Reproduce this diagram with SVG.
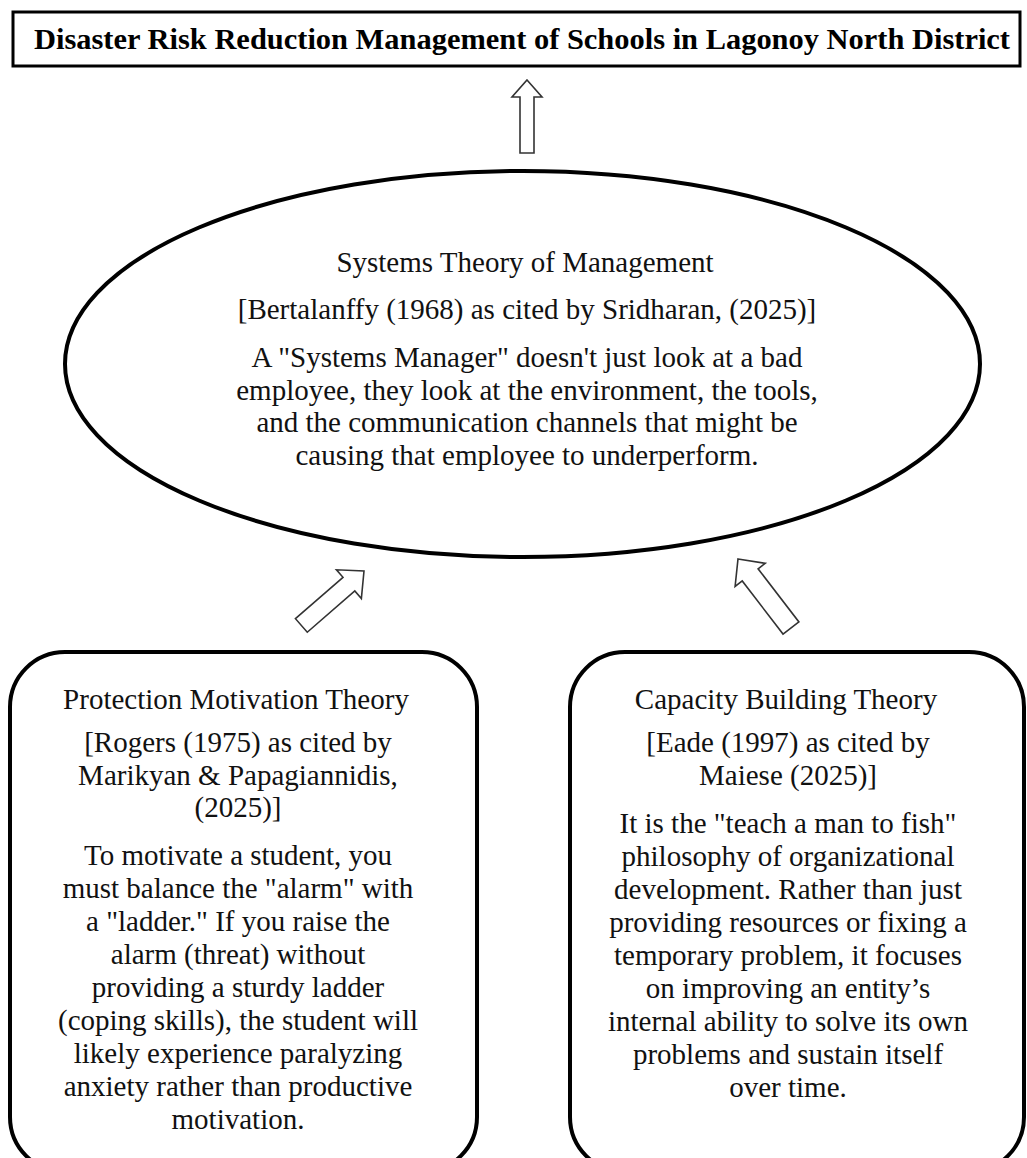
<svg xmlns="http://www.w3.org/2000/svg" width="1027" height="1158" viewBox="0 0 1027 1158">
<style>
.t{font-family:"Liberation Serif","Times New Roman",serif;font-size:29px;fill:#111;text-anchor:middle}
.title{font-family:"Liberation Serif","Times New Roman",serif;font-size:30px;font-weight:bold;fill:#000;text-anchor:middle}
.node{fill:#fff;stroke:#000;stroke-width:4}
.arr{fill:#fff;stroke:#333;stroke-width:1.6;stroke-linejoin:miter}
</style>
<rect width="1027" height="1158" fill="#fff"/>
<g id="connectors">
<path class="arr" transform="translate(527,80)" d="M0,0 L15,17 L7,17 L7,73 L-7,73 L-7,17 L-15,17 Z"/>
<path class="arr" transform="translate(364,571) rotate(49)" d="M0,0 L19,20 L9,20 L9,83 L-9,83 L-9,20 L-19,20 Z"/>
<path class="arr" transform="translate(738,559) rotate(-37.5)" d="M0,0 L19,20 L10,20 L10,87 L-10,87 L-10,20 L-19,20 Z"/>
</g>
<g id="title-node">
<rect x="13" y="12" width="1007" height="54" fill="#fff" stroke="#000" stroke-width="3"/>
<text class="title" x="522" y="49" textLength="976" lengthAdjust="spacingAndGlyphs">Disaster Risk Reduction Management of Schools in Lagonoy North District</text>
</g>
<g id="systems-theory">
<ellipse class="node" cx="522.5" cy="364" rx="457.5" ry="193"/>
<text class="t" x="525" y="272">Systems Theory of Management</text>
<text class="t" x="527" y="319">[Bertalanffy (1968) as cited by Sridharan, (2025)]</text>
<text class="t" x="527" y="367">A "Systems Manager" doesn't just look at a bad</text>
<text class="t" x="527" y="400">employee, they look at the environment, the tools,</text>
<text class="t" x="527" y="432">and the communication channels that might be</text>
<text class="t" x="527" y="465">causing that employee to underperform.</text>
</g>
<g id="protection-motivation">
<rect class="node" x="10" y="652" width="467" height="520" rx="55" ry="55"/>
<text class="t" x="236" y="709">Protection Motivation Theory</text>
<text class="t" x="238" y="752">[Rogers (1975) as cited by</text>
<text class="t" x="238" y="785">Marikyan &amp; Papagiannidis,</text>
<text class="t" x="238" y="817">(2025)]</text>
<text class="t" x="238" y="865">To motivate a student, you</text>
<text class="t" x="238" y="898">must balance the "alarm" with</text>
<text class="t" x="238" y="931">a "ladder." If you raise the</text>
<text class="t" x="238" y="964">alarm (threat) without</text>
<text class="t" x="238" y="997">providing a sturdy ladder</text>
<text class="t" x="238" y="1030">(coping skills), the student will</text>
<text class="t" x="238" y="1063">likely experience paralyzing</text>
<text class="t" x="238" y="1096">anxiety rather than productive</text>
<text class="t" x="238" y="1129">motivation.</text>
</g>
<g id="capacity-building">
<rect class="node" x="570" y="652" width="454" height="520" rx="55" ry="55"/>
<text class="t" x="786" y="709">Capacity Building Theory</text>
<text class="t" x="788" y="752">[Eade (1997) as cited by</text>
<text class="t" x="788" y="785">Maiese (2025)]</text>
<text class="t" x="788" y="833">It is the "teach a man to fish"</text>
<text class="t" x="788" y="866">philosophy of organizational</text>
<text class="t" x="788" y="899">development. Rather than just</text>
<text class="t" x="788" y="932">providing resources or fixing a</text>
<text class="t" x="788" y="965">temporary problem, it focuses</text>
<text class="t" x="788" y="998">on improving an entity’s</text>
<text class="t" x="788" y="1031">internal ability to solve its own</text>
<text class="t" x="788" y="1064">problems and sustain itself</text>
<text class="t" x="788" y="1097">over time.</text>
</g>
</svg>
